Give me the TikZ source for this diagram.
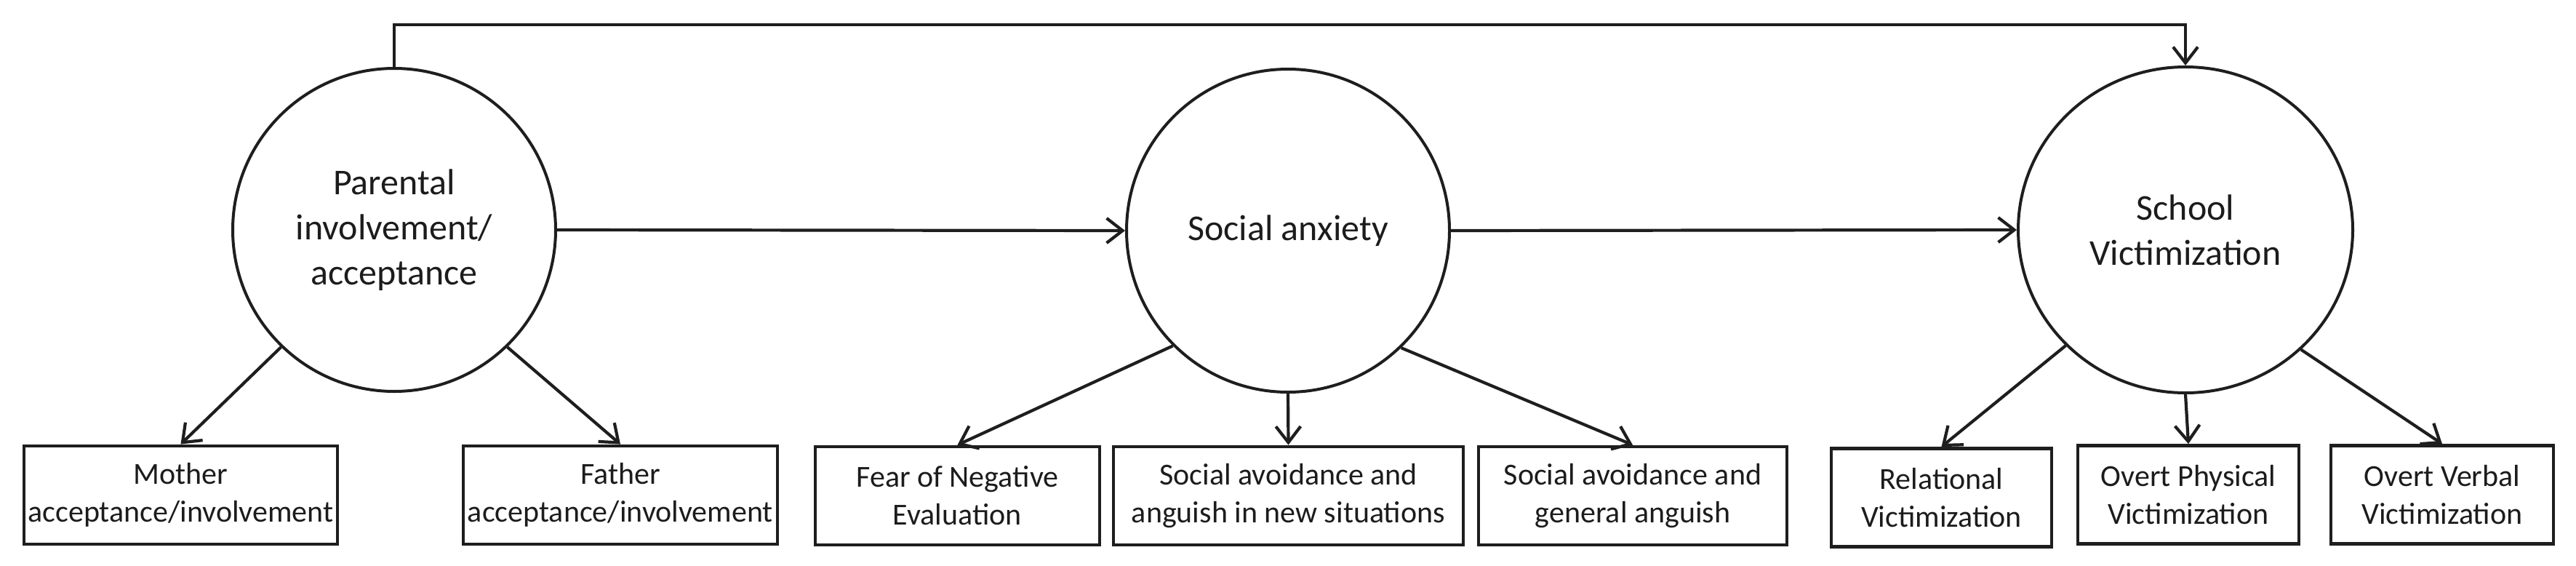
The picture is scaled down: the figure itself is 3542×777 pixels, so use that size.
\documentclass[tikz,border=0pt]{standalone}
\usepackage{fontspec}
\setmainfont{Carlito}
\usetikzlibrary{arrows.meta,shapes.geometric}
\definecolor{linec}{HTML}{1E1E1E}
\definecolor{textc}{HTML}{1C1C1C}
\begin{document}
\begin{tikzpicture}[x=1pt,y=-1pt,
  lv/.style={circle,draw=linec,line width=4pt,minimum size=444pt,inner sep=0pt,align=center,font=\fontsize{50}{62}\selectfont,text=textc},
  ind/.style={rectangle,draw=linec,line width=4.8pt,minimum width=#1,minimum height=135pt,inner sep=0pt,align=center,font=\fontsize{42}{52}\selectfont,text=textc},
  ind/.default=400pt,
  arr/.style={draw=linec,line width=4.2pt,-{Straight Barb[length=22pt,width=34pt]}}]
\fill[white] (0,0) rectangle (3542,777);
\useasboundingbox (0,0) rectangle (3542,777);

\node[lv] (par) at (542,316) {Parental\\involvement/\\acceptance};
\node[lv] (soc) at (1771,317) {Social anxiety};
\node[lv,ellipse,minimum width=460pt,minimum height=448pt] (sch) at (3005,316) {School\\Victimization};

\node[ind=431pt] (mot) at (248.5,680.5) {Mother\\acceptance/involvement};
\node[ind=432pt] (fat) at (853,680.5) {Father\\acceptance/involvement};
\node[ind=391pt] (fne) at (1316.5,681.5) {Fear of Negative\\Evaluation};
\node[ind=481pt] (san) at (1771.5,681.5) {Social avoidance and\\anguish in new situations};
\node[ind=424pt] (sag) at (2245,681.5) {Social avoidance and\\general anguish};
\node[ind=303pt] (rel) at (2669.5,684) {Relational\\Victimization};
\node[ind=304pt] (phy) at (3009,680) {Overt Physical\\Victimization};
\node[ind=306pt] (ver) at (3358,680) {Overt Verbal\\Victimization};

\coordinate (topy) at (0,34);
\draw[arr] (par.north) -- (par.north |- topy) -| (sch.north);
\draw[arr] (par.east) -- (soc.west);
\draw[arr] (soc.east) -- (sch.west);

\draw[arr] (par.226) -- (mot.north);
\draw[arr] (par.314.7) -- (fat.north);
\draw[arr] (soc.225) -- (fne.north);
\draw[arr] (soc.south) -- (san.north);
\draw[arr] (soc.314.5) -- (sag.north);
\draw[arr] (sch.224) -- (rel.north);
\draw[arr] (sch.south) -- (phy.north);
\draw[arr] (sch.314) -- (ver.north);
\end{tikzpicture}
\end{document}
